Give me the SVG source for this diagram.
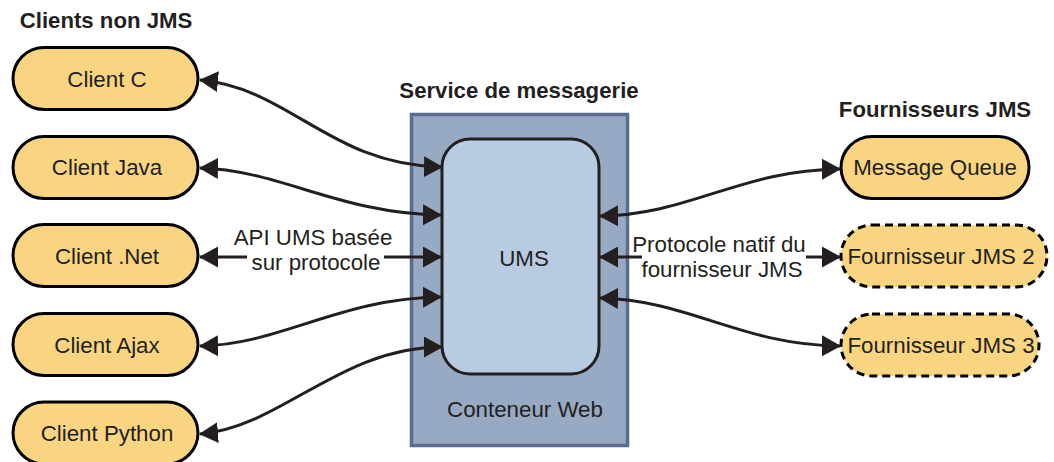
<svg xmlns="http://www.w3.org/2000/svg" width="1054" height="462" viewBox="0 0 1054 462">
<style>
text{font-family:"Liberation Sans",Arial,sans-serif;font-size:22.300px;fill:#231f20;text-anchor:middle}
text.b{font-weight:bold;font-size:22.200px}
.n{fill:#f9d582;stroke:#000;stroke-width:3}
.d{stroke-dasharray:8 5}
.c{fill:none;stroke:#231f20;stroke-width:3;marker-start:url(#a);marker-end:url(#a)}
.s{fill:none;stroke:#231f20;stroke-width:3}
</style>
<defs>
<marker id="a" markerUnits="userSpaceOnUse" markerWidth="19" markerHeight="21" refX="18" refY="10.500" orient="auto-start-reverse" viewBox="0 0 19 21"><path d="M0 0L19 10.500L0 21Z" fill="#231f20"/></marker>
<marker id="e" markerUnits="userSpaceOnUse" markerWidth="19" markerHeight="21" refX="18" refY="10.500" orient="auto" viewBox="0 0 19 21"><path d="M0 0L19 10.500L0 21Z" fill="#231f20"/></marker>
</defs>
<rect width="1054" height="462" fill="#fff"/>
<text class="b" x="106" y="28">Clients non JMS</text>
<text class="b" x="519" y="98">Service de messagerie</text>
<text class="b" x="935" y="117">Fournisseurs JMS</text>
<g id="container"><rect x="411.500" y="114.500" width="216" height="331" fill="#98a9c3" stroke="#5a6d8c" stroke-width="3.500"/><text x="525" y="417">Conteneur Web</text></g>
<g id="ums"><rect x="442" y="139" width="157" height="235" rx="28" fill="#b9cae3" stroke="#231f20" stroke-width="3"/><text x="524" y="266">UMS</text></g>
<g id="client-c"><rect class="n" x="13" y="47.500" width="185" height="62" rx="31"/><text x="107" y="87">Client C</text></g>
<g id="client-java"><rect class="n" x="13" y="136.500" width="185" height="62" rx="31"/><text x="107" y="175">Client Java</text></g>
<g id="client-net"><rect class="n" x="13" y="224.500" width="185" height="62" rx="31"/><text x="107" y="264">Client .Net</text></g>
<g id="client-ajax"><rect class="n" x="13" y="313.500" width="185" height="62" rx="31"/><text x="107" y="353">Client Ajax</text></g>
<g id="client-python"><rect class="n" x="13" y="402" width="185" height="62" rx="31"/><text x="107" y="441">Client Python</text></g>
<g id="mq"><rect class="n" x="841" y="136.500" width="188" height="62" rx="31"/><text x="935" y="175">Message Queue</text></g>
<g id="jms2"><rect class="n d" x="841" y="225" width="206" height="62" rx="31"/><text x="941" y="264">Fournisseur JMS 2</text></g>
<g id="jms3"><rect class="n d" x="841" y="314" width="198" height="62" rx="31"/><text x="941" y="353">Fournisseur JMS 3</text></g>
<g id="connectors">
<path class="c" d="M200 80C290 88 330 165 442 167"/>
<path class="c" d="M200 168C280 170 340 214 441 215"/>
<path class="c" d="M200 346C280 345 340 298 441 297"/>
<path class="c" d="M200 434C280 428 340 347 442 347"/>
<path class="c" d="M600 216C690 215 740 170 840 169"/>
<path class="c" d="M600 298C690 300 740 345 840 346"/>
<path class="s" d="M247 257H200" marker-end="url(#e)"/>
<path class="s" d="M384 257H441" marker-end="url(#e)"/>
<path class="s" d="M642 257H600" marker-end="url(#e)"/>
<path class="s" d="M806 257H840" marker-end="url(#e)"/>
</g>
<text x="313" y="245">API UMS basée</text>
<text x="316" y="270">sur protocole</text>
<text x="719" y="252">Protocole natif du</text>
<text x="722" y="277">fournisseur JMS</text>
</svg>
